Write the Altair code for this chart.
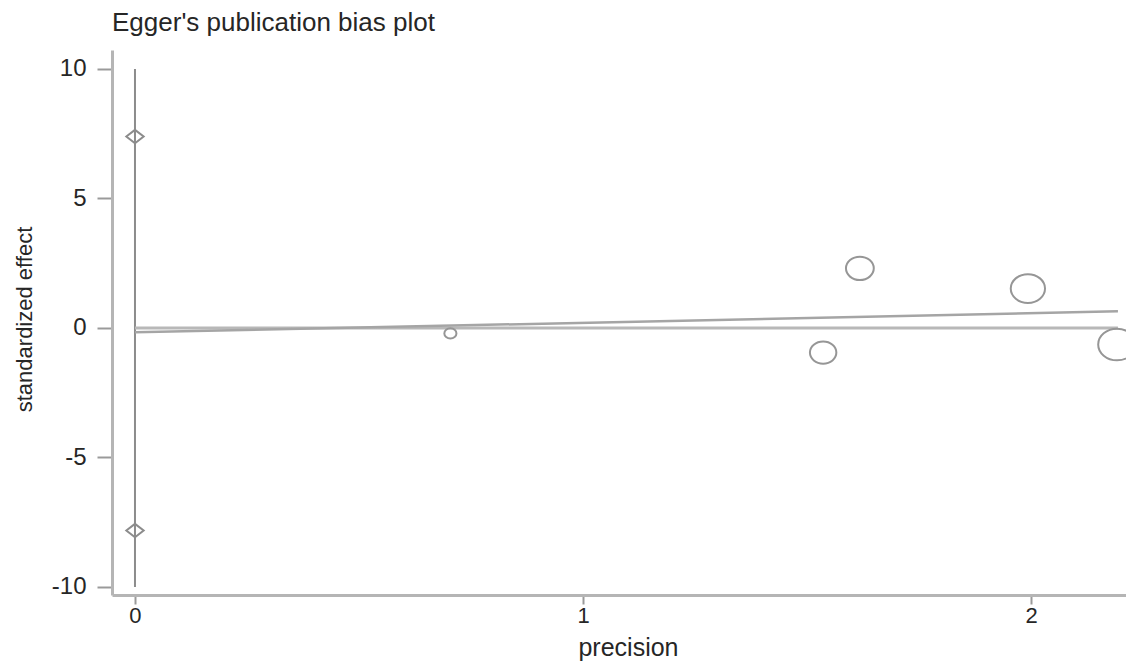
import altair as alt
import pandas as pd

# ---- data ----
precision = [0.704, 1.536, 1.618, 1.993, 2.192]
std_effect = [-0.21, -0.95, 2.30, 1.52, -0.64]
ci_x = [0.0, 0.0]
ci_y = [7.39, -7.82]
ci_low = [-10.0]
ci_high = [10.0]
fit_x = [0.0, 2.194]
fit_y = [-0.17, 0.64]
ref_y = [0.0, 0.0]
x_ticks = [0, 1, 2]
y_ticks = [-10, -5, 0, 5, 10]

FONT = "Liberation Sans"
GREY = "#9a9a9a"
TXT = "#262626"

pts = pd.DataFrame({"x": precision, "y": std_effect})
ends = pd.DataFrame({"x": ci_x, "y": ci_y})
ci = pd.DataFrame({"x": [0.0], "y": ci_low, "hi": ci_high})
fit = pd.DataFrame({"x": fit_x, "y": fit_y})
ref = pd.DataFrame({"x": fit_x, "y": ref_y})

xscale = alt.Scale(domain=[-0.0513, 2.212], nice=False, zero=False)
yscale = alt.Scale(domain=[-10.31, 10.73], nice=False, zero=False)

xaxis = alt.Axis(values=x_ticks, labelExpr="'' + datum.value", title="precision", grid=False,
                 titleFont=FONT, titleFontSize=25, titleFontWeight="normal", titleColor=TXT,
                 titleX=516, titleY=60, titleBaseline="alphabetic", titleAlign="center",
                 labelFont=FONT, labelFontSize=22, labelColor=TXT, labelPadding=1,
                 tickSize=9, tickColor=GREY, tickWidth=2,
                 domainColor="#b5b5b5", domainWidth=3)
yaxis = alt.Axis(values=y_ticks, labelExpr="'' + datum.value", title="standardized effect", grid=False,
                 titleFont=FONT, titleFontSize=22, titleFontWeight="normal", titleColor=TXT,
                 titleX=-81, titleY=269, titleAngle=270, titleBaseline="alphabetic", titleAlign="center",
                 labelFont=FONT, labelFontSize=24, labelColor=TXT, labelPadding=11,
                 tickSize=15, tickColor=GREY, tickWidth=2,
                 domainColor="#b5b5b5", domainWidth=3)

X = alt.X("x:Q", scale=xscale, axis=xaxis, title="precision")
Y = alt.Y("y:Q", scale=yscale, axis=yaxis, title="standardized effect")

ci_rule = alt.Chart(ci).mark_rule(color="#8c8c8c", strokeWidth=2).encode(
    x=X, y=Y, y2="hi:Q",
)

zero_line = alt.Chart(ref).mark_line(color="#b8b8b8", strokeWidth=3).encode(x=X, y=Y)

fit_line = alt.Chart(fit).mark_line(color="#a5a5a5", strokeWidth=2.5).encode(x=X, y=Y)

diamond = "M -1 0 L 0 -0.77 L 1 0 L 0 0.77 Z"
ellipse = "M -1 0 A 1 0.84 0 1 0 1 0 A 1 0.84 0 1 0 -1 0 Z"

end_marks = alt.Chart(ends).mark_point(shape=diamond, size=300, filled=False,
                                        color="#8c8c8c", strokeWidth=2, opacity=1).encode(x=X, y=Y)

study_marks = alt.Chart(pts).transform_calculate(
    w="datum.x * datum.x"
).mark_point(shape=ellipse, filled=False, color="#969696", strokeWidth=2, opacity=1).encode(
    x=X, y=Y,
    size=alt.Size("w:Q", scale=alt.Scale(domain=[0, 4.84], range=[0, 1432]), legend=None),
)

chart = alt.layer(ci_rule, zero_line, fit_line, end_marks, study_marks).properties(
    width=1014,
    height=545,
    title=alt.TitleParams("Egger's publication bias plot", anchor="start", frame="group",
                          font=FONT, fontSize=26, fontWeight="normal", color=TXT,
                          offset=14),
    autosize=alt.AutoSizeParams(type="none"),
    padding={"left": 104, "top": 42, "right": 0, "bottom": 66},
    background="white",
).configure_view(stroke=None)

chart.save("out.html", embed_options={"renderer": "svg", "actions": False})
